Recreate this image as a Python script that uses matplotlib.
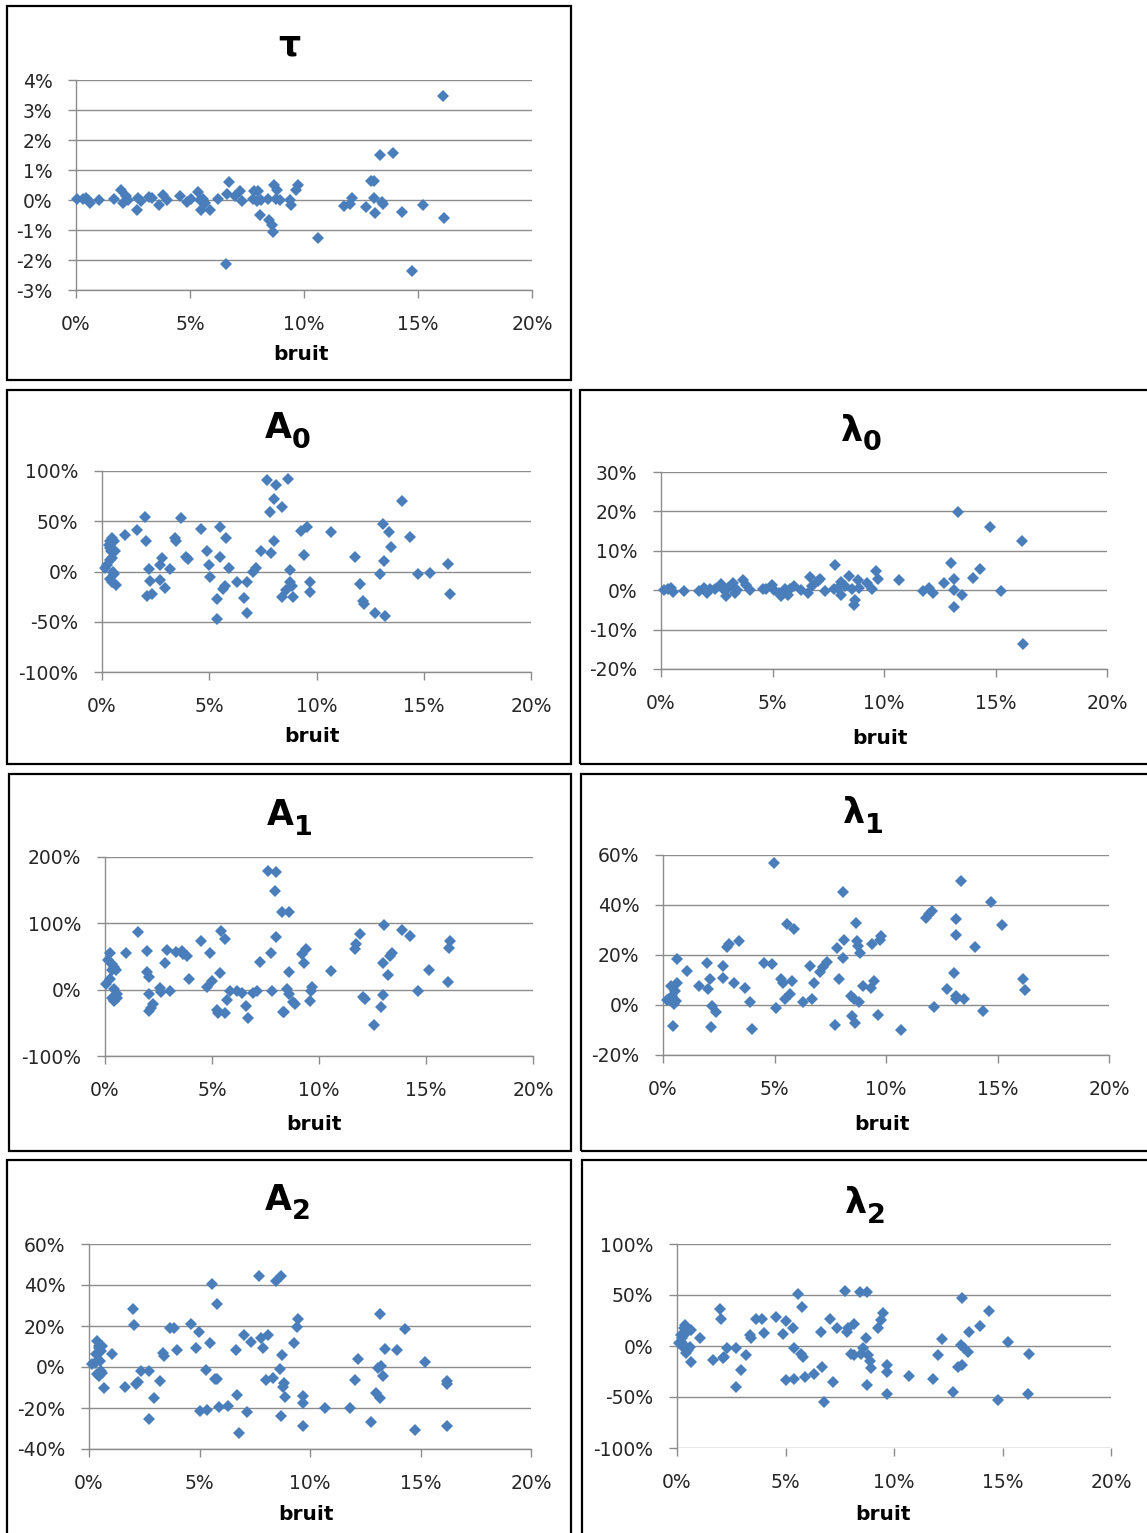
import matplotlib
matplotlib.use("Agg")
import matplotlib.pyplot as plt
from matplotlib.patches import Rectangle
from matplotlib.ticker import PercentFormatter, MultipleLocator

plt.rcParams['font.family'] = ['DejaVu Sans']
plt.rcParams['axes.unicode_minus'] = False

# ---------------- data (bruit in %, relative error in %) ----------------
tau_bruit = [0.05, 0.29, 0.53, 0.61, 0.45, 1.0, 1.65, 1.98, 2.05, 2.21, 2.29, 2.67, 2.7, 2.86,
             3.18, 3.34, 3.66, 3.8, 3.98, 4.55, 4.87, 5.03, 5.35, 5.43, 5.48, 5.59, 5.67, 5.86,
             6.23, 6.6, 6.71, 6.63, 6.99, 7.2, 7.28, 7.76, 7.8, 7.92, 8.0, 8.05, 8.1, 8.4, 8.48,
             8.6, 8.64, 8.7, 8.76, 8.8, 8.96, 9.37, 9.45, 9.65, 9.72, 10.62, 11.74, 12.0, 12.1,
             12.74, 12.93, 13.06, 13.09, 13.1, 13.35, 13.42, 13.46, 13.9, 14.3, 14.75, 15.23,
             16.11, 16.16]
tau_err = [0.03, 0.03, 0.01, -0.1, 0.07, 0.0, 0.03, 0.32, -0.1, 0.12, 0.01, -0.34, 0.07, -0.02,
           0.09, 0.06, -0.16, 0.18, 0.01, 0.12, -0.08, 0.03, 0.26, 0.01, -0.34, 0.03, -0.1, -0.34,
           0.03, -2.14, 0.6, 0.21, 0.12, 0.29, -0.02, 0.04, 0.29, -0.02, 0.29, -0.49, 0.01, 0.03,
           -0.66, -0.82, -1.05, 0.51, 0.03, 0.34, 0.01, 0.01, -0.16, 0.34, 0.49, -1.25, -0.21,
           -0.12, 0.07, -0.24, 0.65, 0.62, 0.07, -0.43, 1.51, -0.05, -0.12, 1.56, -0.41, -2.35,
           -0.16, 3.46, -0.6]

a0_bruit = [0.14, 0.22, 0.31, 0.36, 0.39, 0.44, 0.48, 0.39, 0.48, 0.56, 0.6, 0.53, 0.56, 0.39,
            0.48, 0.65, 1.07, 1.64, 2.01, 2.05, 2.1, 2.18, 2.24, 2.35, 2.7, 2.78, 2.7, 2.95, 3.16,
            3.38, 3.43, 3.69, 3.9, 4.0, 4.62, 4.88, 4.97, 5.03, 5.34, 5.38, 5.51, 5.48, 5.65, 5.72,
            5.77, 5.94, 6.28, 6.62, 6.74, 6.76, 7.05, 7.17, 7.39, 7.68, 7.85, 7.9, 8.04, 8.1, 8.04,
            8.41, 8.41, 8.58, 8.69, 8.75, 8.75, 8.84, 8.92, 9.27, 9.4, 9.54, 9.69, 9.69, 10.68,
            11.79, 12.05, 12.17, 12.2, 12.71, 12.97, 13.1, 13.16, 13.19, 13.4, 13.46, 13.99,
            14.35, 14.73, 15.27, 16.13, 16.21]
a0_err = [3.6, 6, 26, 30, 23, 20, 13, 11, 33, 30, 20, 0, -2, -7, -10, -13, 36, 41, 54.5, 30, -24,
          2, -9, -22, 6, 13, -8, -16, 2, 33, 30, 53, 14, 12, 42, 20, 6, -5, -27, -47.5, 44.5, 14,
          -17, -14, 33, 3, -10, -26, -10, -41, 0, 3, 20, 91, 59.5, 18, 72, 86, 30, 64.5, -25, -18,
          92, 1, -10, -14, -25, 40, 16, 44.5, -10, -20, 39.5, 14.6, -12, -29, -32, -41, -2, 47, 10,
          -44, 39.5, 24, 70.4, 34, -2, -1, 7.3, -22]

l0_bruit = [0.15, 0.31, 0.47, 0.56, 1.05, 1.7, 1.95, 2.06, 2.19, 2.44, 2.68, 2.77, 2.93, 3.01,
            3.21, 3.34, 3.42, 3.67, 3.83, 4.0, 4.57, 4.73, 4.98, 5.06, 5.27, 5.38, 5.55, 5.71,
            5.79, 5.96, 6.28, 6.58, 6.69, 6.78, 7.02, 7.14, 7.35, 7.79, 7.76, 7.92, 8.05, 8.09,
            8.25, 8.45, 8.55, 8.66, 8.71, 8.82, 8.9, 9.23, 9.48, 9.64, 9.75, 10.67, 11.77, 12.01,
            12.18, 12.7, 13.0, 13.13, 13.16, 13.13, 13.32, 13.49, 13.98, 14.3, 14.75, 15.25,
            16.19, 16.24]
l0_err = [0, 0.2, 0.6, -0.5, -0.25, -0.25, 0.6, -0.7, 0.2, 0.4, 1.7, 0.2, -1.5, 0.6, 1.9, -0.7,
          0, 2.7, 1.4, 0, 0.4, 0.2, 1.4, 0, -0.7, -1.5, 0.3, -1.1, 0.2, 1.0, 0, -0.7, 3.3, 1.0,
          2.3, 2.9, -0.25, 6.4, 0.3, 0.6, 2.0, -1.1, 1.0, 3.6, 0.2, -3.8, -2.4, 2.7, 0.6, 1.9, 0.3,
          4.8, 2.9, 2.6, -0.25, 0.6, -0.8, 1.9, 6.8, 2.9, 0, -4.2, 19.8, -1.1, 3.1, 5.3, 16.1,
          -0.25, 12.6, -13.6]

a1_bruit = [0.07, 0.15, 0.24, 0.33, 0.33, 0.41, 0.33, 0.41, 0.5, 0.55, 0.58, 0.44, 0.24, 0.98,
            1.54, 1.95, 1.98, 2.04, 2.05, 2.04, 2.16, 2.26, 2.58, 2.63, 2.81, 2.89, 3.06, 3.32,
            3.58, 3.66, 3.83, 3.92, 4.48, 4.77, 4.89, 4.99, 5.25, 5.28, 5.37, 5.42, 5.63, 5.68,
            5.63, 5.85, 6.19, 6.4, 6.57, 6.69, 6.91, 7.08, 7.25, 7.6, 7.77, 7.81, 7.98, 7.94, 7.98,
            8.28, 8.36, 8.31, 8.49, 8.62, 8.62, 8.62, 8.79, 8.88, 9.22, 9.31, 9.39, 9.56, 9.62,
            9.65, 10.56, 11.67, 11.74, 11.91, 12.04, 12.13, 12.59, 12.9, 12.98, 12.98, 13.03,
            13.24, 13.33, 13.41, 13.88, 14.27, 14.61, 15.16, 16.01, 16.06, 16.1]
a1_err = [8.5, 44, 56, 29, 39, 1, -12, -17, 29, -7, -12, 34, 16, 55, 87.5, 59, 26, 19, -6.5, -32,
          -27, -22, 2.5, -4, 40, 60, -2.5, 57, 59, 54, 51, 16, 73, 3.5, 56, 13.5, -30, -35, 25, 89,
          76, -15.6, -35, -1.5, -2.5, -4.5, -24, -43, -5.5, -1.5, 42, 179, 55, -1.5, 178, 148, 79,
          116.5, -33, -34, 1, 116.5, 26, -6.5, -19, -21.6, 54, 40, 61, -16.6, -1.5, 4.5, 28.6,
          61, 69, 84, -11.6, -14, -53, -26.6, -8, 40, 98, 22.6, 51, 56, 90, 81, -2.5, 30, 11,
          63, 73]

l1_bruit = [0.16, 0.29, 0.36, 0.41, 0.46, 0.49, 0.52, 0.62, 0.65, 0.59, 1.06, 1.63, 1.96, 2.04,
            2.12, 2.16, 2.2, 2.37, 2.69, 2.69, 2.86, 2.94, 3.18, 3.43, 3.67, 3.89, 4.0, 4.54, 4.9,
            4.98, 5.06, 5.31, 5.39, 5.47, 5.55, 5.71, 5.8, 5.88, 6.29, 6.61, 6.69, 6.78, 7.02,
            7.18, 7.35, 7.71, 7.8, 7.87, 8.05, 8.05, 8.11, 8.41, 8.49, 8.57, 8.62, 8.65, 8.69,
            8.73, 8.82, 8.78, 8.98, 9.31, 9.39, 9.47, 9.63, 9.71, 9.76, 10.66, 11.79, 11.92,
            12.05, 12.16, 12.73, 13.03, 13.14, 13.14, 13.14, 13.14, 13.35, 13.52, 13.99, 14.33,
            14.69, 15.22, 16.13, 16.24]
l1_err = [2, 2.5, 7.6, 3.6, -8.4, 0.3, 5.6, 8.9, 18.3, 1.6, 13.6, 7.6, 17, 6.3, 10.5, -8.8, -0.4,
          -2.8, 15.6, 11, 23.3, 24.3, 8.9, 25.6, 6.7, 1.3, -9.5, 17, 16.3, 56.7, -1.3, 10.3, 8.9,
          2.5, 32.3, 4.3, 9.6, 30.3, 1.3, 15.6, 2.3, 8.9, 13.2, 15.3, 17.2, -8, 22.7, 10.3, 45.2,
          18.9, 26, 3.6, -4.4, 2.5, -7, 32.7, 25.6, 23.6, 21, 1.3, 7.6, 6.9, 24.3, 9.6, -4, 26,
          27.6, -10, 34.7, 36.3, 37.6, -0.7, 6.3, 12.7, 34.3, 28, 2.3, 3.6, 49.6, 2.3, 23.3,
          -2.4, 41.3, 32, 10.3, 6]

a2_bruit = [0.13, 0.27, 0.33, 0.38, 0.43, 0.46, 0.5, 0.55, 0.38, 0.46, 0.6, 0.6, 0.55, 0.66,
            1.06, 1.63, 1.99, 2.04, 2.12, 2.21, 2.37, 2.7, 2.7, 2.92, 3.2, 3.37, 3.4, 3.65, 3.86,
            3.99, 4.61, 4.86, 4.99, 5.02, 5.31, 5.36, 5.47, 5.56, 5.69, 5.77, 5.8, 5.89, 6.3,
            6.63, 6.68, 6.77, 7.01, 7.15, 7.35, 7.71, 7.79, 7.88, 8.01, 8.09, 8.34, 8.46, 8.62,
            8.71, 8.67, 8.72, 8.76, 8.84, 8.89, 9.29, 9.42, 9.47, 9.67, 9.67, 9.67, 10.66, 11.82,
            12.02, 12.16, 12.74, 12.99, 13.07, 13.15, 13.15, 13.2, 13.32, 13.4, 13.93, 14.31,
            14.73, 15.22, 16.19, 16.22, 16.19]
a2_err = [1.3, 2.1, 6.2, 12.7, 10.2, 9.4, 2.9, -2, -3.6, -4.4, -2.8, 10.2, 7.8, -10.4, 6.2, -9.6,
          28.1, 20.3, -8.5, -7.3, -2, -2, -25.2, -15, -6.8, 6.7, 5.4, 19.2, 19.2, 8.1, 20.8, 9.4,
          17.2, -21.5, -1.6, -21.1, 11.9, 40.7, -6, 30.9, -6, -19.5, -19, 8.1, -13.8, -32.4, 15.6,
          -22, 12.4, 44.4, 14.3, 9.4, -6.5, 15.6, -5.2, 42, -1.1, 44.4, -23.9, 5.7, -9.6, -7.6,
          -14.6, 11.9, 19.7, 23.6, -14.1, -17.4, -28.8, -20.2, -20.2, -6.5, 3.7, -26.8, -12.5,
          -0.3, 26, -15.3, 0.5, -4.4, 8.6, 8.1, 18.7, -30.7, 2.6, -6.8, -8.1, -28.8]

l2_bruit = [0.08, 0.17, 0.2, 0.25, 0.34, 0.39, 0.3, 0.42, 0.47, 0.5, 0.59, 0.64, 0.64, 0.34,
            1.06, 1.65, 1.97, 2.02, 2.1, 2.18, 2.32, 2.72, 2.74, 2.94, 3.19, 3.36, 3.41, 3.65,
            3.9, 4.0, 4.57, 4.87, 5.01, 5.04, 5.34, 5.38, 5.38, 5.58, 5.75, 5.71, 5.8, 5.92, 6.3,
            6.64, 6.69, 6.76, 7.06, 7.18, 7.39, 7.73, 7.82, 7.9, 8.02, 8.15, 8.15, 8.44, 8.49,
            8.57, 8.71, 8.74, 8.74, 8.82, 8.91, 8.94, 9.28, 9.41, 9.5, 9.66, 9.7, 9.66, 10.67,
            11.8, 12.02, 12.22, 12.74, 12.97, 13.14, 13.14, 13.11, 13.24, 13.41, 13.45, 13.95,
            14.37, 14.79, 15.24, 16.17, 16.22]
l2_err = [2.6, 4.3, 10.8, 7.5, 17.4, 20.7, -2.3, -7.2, 14.1, -3.9, -0.7, 15.7, -15.4, 1, 8.2,
          -13.8, 36.4, 26.6, -11.5, -10.5, -2.3, -2.3, -40, -23.6, -8.9, 10.8, 8.2, 26.2, 26.2,
          12.5, 28.2, 11.5, 24.6, -33.4, 17.4, -1.6, -32.5, 50.8, 38.7, -8.2, -10.5, -30.2, -27.9,
          13.4, -20.3, -54.8, 26.6, -35.1, 17.4, 54.1, 14.1, 17.4, -8.2, 21.3, -8.9, 52.5, -8.2,
          -1.6, 8.2, 53.4, -38.4, -8.9, -14.8, -22, 18, 25.6, 32.1, -18.7, -25.2, -47.2, -29.5,
          -32.5, -8.9, 6.6, -44.9, -20.3, -18.7, 46.9, 1, -2.3, -5.6, 14.1, 20, 34.8, -52.5, 3.6,
          -47.5, -8.2]

x_ticks = [0, 5, 10, 15, 20]
x_label = "bruit"

# ---------------- layout ----------------
W, H = 1147, 1533
fig = plt.figure(figsize=(W / 100, H / 100), dpi=100)

BLUE = '#4A7EBB'
GRID = '#8C8C8C'
TXT = '#262626'

panels = [
    # main, sub, x, y, ylim, ystep, axes px box (x0, x1, ytop, ybot), title (cx, base, subdrop), xlabel (cx, cy), border (x0,y0,x1,y1)
    dict(main='τ', sub='', x=tau_bruit, y=tau_err, ylim=(-3, 4), step=1,
         box=(76, 532, 80, 290), title=(289, 55, 0), xl=(301, 355), border=(7, 6, 571, 380), bottom=True),
    dict(main='A', sub='0', x=a0_bruit, y=a0_err, ylim=(-100, 100), step=50,
         box=(102, 531, 471, 672), title=(288, 438, 10), xl=(312, 737), border=(7, 390, 571, 764), bottom=True),
    dict(main='λ', sub='0', x=l0_bruit, y=l0_err, ylim=(-20, 30), step=10,
         box=(661, 1107, 472, 669), title=(861, 441, 9), xl=(880, 738), border=(580, 390, 1150, 764), bottom=True),
    dict(main='A', sub='1', x=a1_bruit, y=a1_err, ylim=(-100, 200), step=100,
         box=(105, 533, 857, 1056), title=(290, 825, 10), xl=(314, 1125), border=(9, 774, 571, 1151), bottom=True),
    dict(main='λ', sub='1', x=l1_bruit, y=l1_err, ylim=(-20, 60), step=20,
         box=(663, 1109, 855, 1055), title=(863, 823, 10), xl=(882, 1125), border=(581, 774, 1150, 1151), bottom=True),
    dict(main='A', sub='2', x=a2_bruit, y=a2_err, ylim=(-40, 60), step=20,
         box=(89, 531, 1244, 1449), title=(288, 1210, 9), xl=(306, 1515), border=(7, 1160, 571, 1540), bottom=True),
    dict(main='λ', sub='2', x=l2_bruit, y=l2_err, ylim=(-100, 100), step=50,
         box=(677, 1111, 1244, 1448), title=(865, 1213, 10), xl=(883, 1515), border=(582, 1160, 1150, 1540), bottom=False),
]

renderer = fig.canvas.get_renderer()

for p in panels:
    x0, x1, yt, yb = p['box']
    ax = fig.add_axes([x0 / W, 1 - yb / H, (x1 - x0) / W, (yb - yt) / H])
    ax.plot(p['x'], p['y'], linestyle='none', marker='D', ms=5.8, color=BLUE,
            markeredgewidth=0, clip_on=False, zorder=3)
    ax.set_xlim(0, 20)
    ax.set_ylim(*p['ylim'])
    ax.set_xticks(x_ticks)
    ax.yaxis.set_major_locator(MultipleLocator(p['step']))
    ax.xaxis.set_major_formatter(PercentFormatter(xmax=100, decimals=0))
    ax.yaxis.set_major_formatter(PercentFormatter(xmax=100, decimals=0))
    ax.grid(axis='y', color=GRID, linewidth=1.0)
    ax.set_axisbelow(True)
    for s in ('top', 'right'):
        ax.spines[s].set_visible(False)
    ax.spines['left'].set_color(GRID)
    ax.spines['bottom'].set_color(GRID)
    ax.spines['left'].set_linewidth(1.0)
    ax.spines['bottom'].set_linewidth(1.0)
    if not p['bottom']:
        ax.spines['bottom'].set_visible(False)
    ax.tick_params(axis='both', direction='out', length=6, width=1.0, color=GRID,
                   labelsize=13.5, labelcolor=TXT)
    ax.tick_params(axis='y', pad=11)
    ax.tick_params(axis='x', pad=12)
    ax.set_facecolor('none')

    # x label
    fig.text(p['xl'][0] / W, 1 - p['xl'][1] / H, x_label, ha='center', va='center',
             fontsize=14.5, fontweight='bold', color='black')

    # title with large subscript
    cx, base, drop = p['title']
    tm = fig.text(0, 0, p['main'], fontsize=25, fontweight='bold', color='black', va='baseline', ha='left')
    wm = tm.get_window_extent(renderer).width
    ws = 0
    ts = None
    if p['sub']:
        ts = fig.text(0, 0, p['sub'], fontsize=19.5, fontweight='bold', color='black', va='baseline', ha='left')
        ws = ts.get_window_extent(renderer).width
    left = cx - (wm + ws) / 2
    tm.set_position((left / W, 1 - base / H))
    if ts is not None:
        ts.set_position(((left + wm) / W, 1 - (base + drop) / H))

    # panel border
    bx0, by0, bx1, by1 = p['border']
    fig.patches.append(Rectangle((bx0 / W, 1 - by1 / H), (bx1 - bx0) / W, (by1 - by0) / H,
                                 transform=fig.transFigure, fill=False, edgecolor='black',
                                 linewidth=1.6, zorder=10))

fig.savefig('out.png', dpi=100)
